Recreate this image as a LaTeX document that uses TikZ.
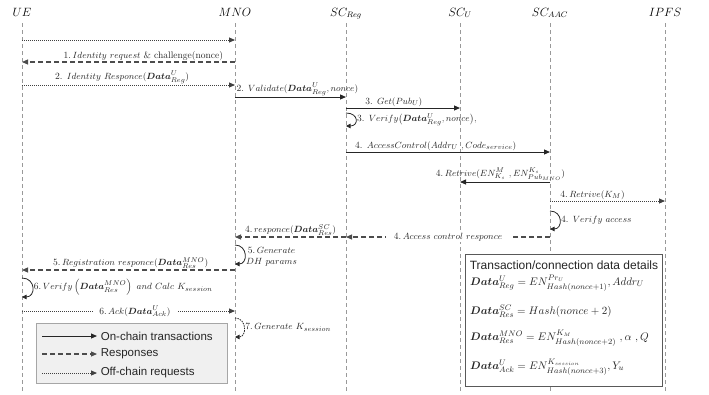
\documentclass[tikz,border=0pt]{standalone}
\usepackage{amsmath}
\usepackage{bm}
\usepackage{fontspec}
\newfontfamily\legendfont{Liberation Sans}
\usetikzlibrary{arrows.meta,positioning}
\tikzset{>={Triangle[length=6pt,width=5pt]}}
\tikzset{actor/.style={font=\fontsize{11.5}{13}\selectfont, anchor=base}}
\tikzset{lifeline/.style={draw=gray!80, dash pattern=on 4pt off 3pt, line width=0.5pt}}
\tikzset{onchain/.style={->, draw=black!85, line width=1pt}}
\tikzset{resp/.style={->, draw=black!70, line width=1.1pt, dash pattern=on 5pt off 3pt}}
\tikzset{offchain/.style={->, draw=black!75, line width=0.9pt, dash pattern=on 1pt off 1pt}}
\tikzset{selfloop/.style={->, draw=black!85, line width=0.8pt, >={Triangle[length=4.5pt,width=4.5pt]}}}
\tikzset{msg/.style={font=\fontsize{9.5}{11}\selectfont, inner sep=1pt, text=black!85}}
\tikzset{legtext/.style={font=\legendfont\fontsize{11.5}{13}\selectfont, text=black!85}}
\tikzset{formula/.style={font=\fontsize{11}{13}\selectfont, text=black!85, inner sep=0pt}}

\begin{document}
\begin{tikzpicture}[x=1pt,y=-1pt]
\useasboundingbox (0,0) rectangle (709,394);
% actors
\node[actor] (ue)   at (22,16)  {$UE$};
\node[actor] (mno)  at (235,16) {$MNO$};
\node[actor] (sreg) at (346,16) {$SC_{Reg}$};
\node[actor] (scu)  at (460,16) {$SC_{U}$};
\node[actor] (saac) at (550,16) {$SC_{AAC}$};
\node[actor] (ipfs) at (665,16) {$IPFS$};
% rows of the messages
\foreach \n/\y in {top/23, bot/393, r1/40, r2/62, r3/85, r4/97, r5/108,
    l1a/113, l1b/126, r6/152, r7/182, r8/201, l2a/211, l2b/229, r9/237,
    l3a/245, l3b/264, r10/270, l4a/278, l4b/297, r11/311, l5a/318, l5b/337}
    \coordinate (\n) at (0,\y);
% lifelines
\foreach \p in {ue,mno,sreg,scu,saac,ipfs}
    \draw[lifeline] (\p |- top) -- (\p |- bot);

% boxes
\draw[draw=gray!70, fill=gray!12] (36,323) rectangle (227,383);
\draw[draw=black!65, line width=0.8pt, fill=white] (465,254) rectangle (662,386);

% messages
\draw[offchain] (ue |- r1) -- (mno |- r1);
\draw[resp] (mno |- r2) -- node[msg, above, pos=0.43] {1.\,$Identity\ request$ \& challenge(nonce)} (ue |- r2);
\draw[offchain] (ue |- r3) -- node[msg, above, pos=0.47] {2. $Identity\ Responce(\bm{Data}^{U}_{Reg})$} (mno |- r3);
\draw[onchain] (mno |- r4) -- node[msg, above right, pos=0] {2. $Validate(\bm{Data}^{U}_{Reg}, nonce)$} (sreg |- r4);
\draw[onchain] (sreg |- r5) -- node[msg, above, pos=0.42] {3. $Get(Pub_U)$} (scu |- r5);
\draw[selfloop] (sreg |- l1a) .. controls +(13,0) and +(13,0) .. (sreg |- l1b)
    node[msg, right, pos=0.5] {3. $Verify\big(\bm{Data}^{U}_{Reg}, nonce\big),$};
\draw[onchain] (sreg |- r6) -- node[msg, above, pos=0.44] {4. $AccessControl(Addr_U\ , Code_{service})$} (saac |- r6);
\draw[onchain] (saac |- r7) -- node[msg, above, pos=0.55] {4.\,$Retrive(EN^{M}_{K_s}\ , EN^{K_s}_{Pub_{MNO}})$} (scu |- r7);
\draw[offchain] (saac |- r8) -- node[msg, above, pos=0.37] {4.\,$Retrive(K_M)$} (ipfs |- r8);
\draw[selfloop] (saac |- l2a) .. controls +(13,0) and +(13,0) .. (saac |- l2b)
    node[msg, right, pos=0.5] {4. $Verify\ access$};
\draw[resp] (saac |- r9) -- node[msg, fill=white, inner xsep=8pt, pos=0.5] {4.\,$Access\ control\ responce$} (sreg |- r9);
\draw[resp] (sreg |- r9) -- node[msg, above, pos=0.5] {4.\,$responce(\bm{Data}^{SC}_{Res})$} (mno |- r9);
\draw[selfloop] (mno |- l3a) .. controls +(13,0) and +(13,0) .. (mno |- l3b)
    node[msg, right, pos=0.5, align=center, yshift=-2pt] {5.\,$Generate$\\$DH\ params$};
\draw[resp] (mno |- r10) -- node[msg, above, pos=0.49] {5.\,$Registration\ responce(\bm{Data}^{MNO}_{Res})$} (ue |- r10);
\draw[selfloop] (ue |- l4a) .. controls +(14,0) and +(14,0) .. (ue |- l4b)
    node[msg, right, pos=0.5] {6.\,$Verify\left(\bm{Data}^{MNO}_{Res}\right)\ and\ Calc\ K_{session}$};
\draw[offchain] (ue |- r11) -- node[msg, fill=white, inner xsep=6pt, pos=0.53] {6.\,$Ack(\bm{Data}^{U}_{Ack})$} (mno |- r11);
\draw[selfloop, dash pattern=on 1.5pt off 1pt] (mno |- l5a) .. controls +(12,0) and +(12,0) .. (mno |- l5b)
    node[msg, right, pos=0.5] {7.\,$Generate\ K_{session}$};

% legend
\coordinate (lg1a) at (42,336); \coordinate (lg1b) at (97,336);
\coordinate (lg2a) at (42,354); \coordinate (lg2b) at (97,354);
\coordinate (lg3a) at (42,373); \coordinate (lg3b) at (97,373);
\draw[onchain] (lg1a) -- (lg1b) node[legtext, right] (lg1) {On-chain transactions};
\draw[resp] (lg2a) -- (lg2b) node[legtext, right] (lg2) {Responses};
\draw[offchain] (lg3a) -- (lg3b) node[legtext, right] (lg3) {Off-chain requests};

% data details
\node[legtext, font=\legendfont\fontsize{12}{14}\selectfont] (dtitle) at (564,265) {Transaction/connection data details};
\node[formula, anchor=west] (d1) at (470,283) {$\bm{Data}^{U}_{Reg} = EN^{Pr_U}_{Hash(nonce+1)}, Addr_U$};
\node[formula, anchor=west] (d2) at (470,311) {$\bm{Data}^{SC}_{Res} = Hash(nonce+2)$};
\node[formula, anchor=west] (d3) at (470,338) {$\bm{Data}^{MNO}_{Res} = EN^{K_M}_{Hash(nonce+2)}\ , \alpha\ , Q$};
\node[formula, anchor=west] (d4) at (470,367) {$\bm{Data}^{U}_{Ack} = EN^{K_{session}}_{Hash(nonce+3)}, Y_u$};
\end{tikzpicture}
\end{document}
